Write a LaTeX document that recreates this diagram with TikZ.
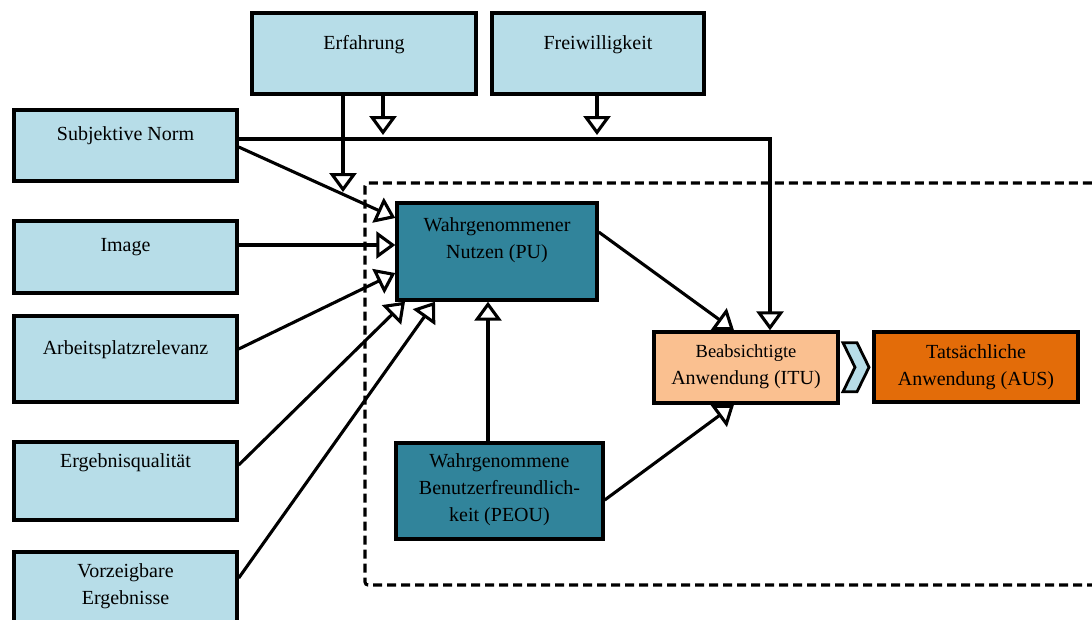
\documentclass[tikz,border=0pt]{standalone}
\usepackage{fontspec}
\setmainfont{Liberation Serif}
\usetikzlibrary{arrows.meta,calc}
\definecolor{lightbox}{RGB}{183,221,232}
\definecolor{tealbox}{RGB}{49,132,155}
\definecolor{peachbox}{RGB}{250,192,144}
\definecolor{orangebox}{RGB}{227,108,9}
\begin{document}
\begin{tikzpicture}[x=1pt,y=-1pt,
  box/.style={draw=black, line width=3.4pt, fill=#1, rectangle, inner sep=0pt},
  lbl/.style={font=\fontsize{20}{27}\selectfont, align=center, inner sep=0pt},
  conn/.style={line width=3.1pt, -{Triangle[length=19pt,width=27pt,fill=white]}},
  frame/.style={line width=3.1pt, dash pattern=on 9pt off 5pt, rounded corners=3pt}]
\useasboundingbox (0,0) rectangle (1092,619);
\clip (0,0) rectangle (1092,619);

% dashed frame around the core model
\draw[frame] (1110,585) -- (365,585) -- (365,183) -- (1110,183);

% boxes
\node[box=lightbox, minimum width=224pt, minimum height=81pt] (erf) at (364,53.5) {};
\node[box=lightbox, minimum width=212pt, minimum height=81pt] (frei) at (598,53.5) {};
\node[box=lightbox, minimum width=223pt, minimum height=71pt] (sn) at (125.5,145.5) {};
\node[box=lightbox, minimum width=223pt, minimum height=72pt] (img) at (125.5,257) {};
\node[box=lightbox, minimum width=223pt, minimum height=86pt] (job) at (125.5,359) {};
\node[box=lightbox, minimum width=223pt, minimum height=78pt] (out) at (125.5,481) {};
\node[box=lightbox, minimum width=223pt, minimum height=90pt] (res) at (125.5,597) {};
\node[box=tealbox, minimum width=200pt, minimum height=97pt] (pu) at (497,251.5) {};
\node[box=tealbox, minimum width=207pt, minimum height=96pt] (peou) at (499.5,491) {};
\node[box=peachbox, minimum width=184pt, minimum height=71pt] (itu) at (746,367.5) {};
\node[box=orangebox, minimum width=204pt, minimum height=70pt] (aus) at (976,367) {};

% labels
\node[lbl] (erf-t) at (364,45) {Erfahrung};
\node[lbl] (frei-t) at (598,45) {Freiwilligkeit};
\node[lbl] (sn-t) at (125.5,136) {Subjektive Norm};
\node[lbl] (img-t) at (125.5,247) {Image};
\node[lbl] (job-t) at (125.5,350) {Arbeitsplatzrelevanz};
\node[lbl] (out-t) at (125.5,463) {Ergebnisqualität};
\node[lbl] (res-t) at (125.5,586) {Vorzeigbare\\Ergebnisse};
\node[lbl] (pu-t) at (497,240.5) {Wahrgenommener\\Nutzen (PU)};
\node[lbl] (peou-t) at (499.5,490) {Wahrgenommene\\Benutzerfreundlich-\\keit (PEOU)};
\node[lbl] (itu-t) at (746,367) {{\fontsize{18.5}{27}\selectfont Beabsichtigte}\\Anwendung (ITU)};
\node[lbl] (aus-t) at (976,367) {Tatsächliche\\Anwendung (AUS)};

% free ends of the moderating arrows
\coordinate (erf-end) at (343,192);
\coordinate (erf-mod) at (383,135);
\coordinate (frei-mod) at (597,135);

% connectors
\draw[conn] (erf.south -| erf-end) -- (erf-end);
\draw[conn] (erf.south -| erf-mod) -- (erf-mod);
\draw[conn] (frei.south -| frei-mod) -- (frei-mod);
\draw[conn] ([yshift=6.5pt]sn.east) -| ([xshift=24pt]itu.north);
\draw[conn] ([yshift=-1.5pt]sn.east) -- ([yshift=33.5pt]pu.west);
\draw[conn] ([yshift=12pt]img.east) -- ([yshift=6.5pt]pu.west);
\draw[conn] ([yshift=10pt]job.east) -- ([yshift=-21.5pt]pu.west);
\draw[conn] ([yshift=16pt]out.east) -- ([xshift=-92pt]pu.south);
\draw[conn] ([yshift=19pt]res.east) -- ([xshift=-62pt]pu.south);
\draw[conn] ([xshift=-11.5pt]peou.north) -- ([xshift=-11.5pt]peou.north |- pu.south);
\draw[conn] ([yshift=19.5pt]pu.east) -- ([xshift=-12pt]itu.north);
\draw[conn] ([yshift=-9pt]peou.east) -- ([xshift=-12pt]itu.south);

% chevron from intention to usage
\coordinate (chev) at ($(itu.east)!0.5!(aus.west)$);
\draw[fill=lightbox, line width=2.8pt, line join=miter]
  ([xshift=-13pt,yshift=24.5pt]chev) -- ([xshift=1pt,yshift=24.5pt]chev)
  -- ([xshift=13pt]chev) -- ([xshift=1pt,yshift=-24.5pt]chev)
  -- ([xshift=-13pt,yshift=-24.5pt]chev) -- ([xshift=-1pt]chev) -- cycle;
\end{tikzpicture}
\end{document}
